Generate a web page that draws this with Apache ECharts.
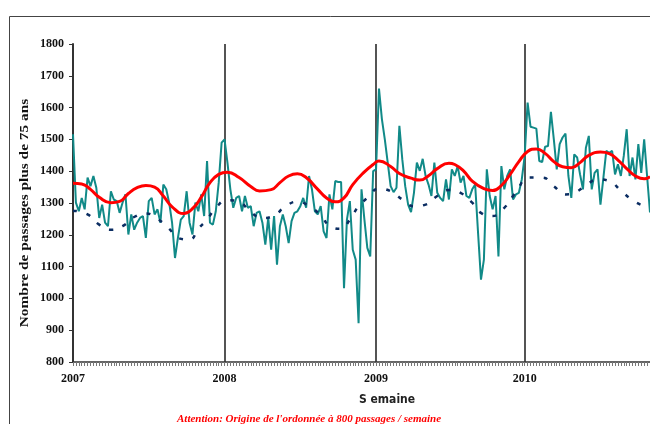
<!DOCTYPE html>
<html>
<head>
<meta charset="utf-8">
<script src="https://cdn.jsdelivr.net/npm/echarts@6/dist/echarts.min.js"></script>
<style>
html,body{margin:0;padding:0;background:#fff;}
#chart{width:650px;height:424px;}
</style>
</head>
<body>
<div id="chart"></div>
<script>
// Weekly counts (teal series), one array per year
const teal2007 = [1516,1301,1274,1316,1280,1380,1353,1385,1348,1253,1295,1238,1227,1337,1311,1306,1269,1301,1327,1201,1264,1216,1238,1253,1259,1190,1306,1316,1264,1280,1238,1358,1343,1301,1238,1127,1190,1248,1259,1337,1238,1201,1301,1274,1327,1259,1432,1238,1232,1274,1364,1490];
const teal2008 = [1500,1427,1343,1285,1316,1322,1274,1322,1285,1290,1227,1269,1274,1238,1169,1253,1153,1259,1106,1227,1264,1227,1174,1243,1269,1274,1290,1316,1285,1385,1343,1274,1264,1290,1211,1190,1327,1280,1369,1366,1366,1032,1248,1306,1153,1122,922,1343,1248,1159,1132,1400];
const teal2009 = [1406,1660,1564,1500,1427,1353,1334,1348,1543,1437,1353,1295,1271,1332,1427,1401,1439,1385,1358,1322,1427,1332,1316,1306,1374,1311,1406,1385,1416,1364,1385,1322,1316,1343,1358,1206,1059,1122,1406,1322,1280,1322,1132,1416,1343,1385,1406,1311,1327,1332,1374,1448];
const teal2010 = [1616,1540,1537,1534,1432,1429,1477,1479,1587,1500,1406,1485,1506,1518,1385,1316,1453,1443,1390,1343,1474,1511,1343,1395,1406,1295,1379,1464,1458,1464,1390,1422,1385,1448,1532,1385,1443,1374,1485,1395,1500,1385,1270];

// Smooth expected curve (red) read at key weeks
const redWeeks  = [0,3,6,9,13,16,19,22,25,28,31,34,38,41,44,47,50,53,57,61,64,68,71,74,77,80,84,87,90,93,96,100,103,105,109,112,116,119,122,125,129,131,134,137,141,144,147,150,153,156,159,162,165,168,171,174,177,181,184,187,190,193,196,198];
const redValues = [1362,1360,1343,1318,1301,1305,1330,1348,1355,1350,1322,1288,1267,1282,1318,1364,1390,1397,1380,1352,1338,1342,1364,1385,1392,1380,1343,1316,1304,1316,1358,1398,1421,1432,1415,1393,1378,1372,1386,1408,1425,1421,1401,1369,1345,1339,1355,1390,1430,1462,1470,1456,1430,1414,1411,1427,1450,1460,1455,1435,1408,1385,1376,1383];

// Lower dashed curve (navy) read at key weeks
const blueWeeks  = [0,5,9,13,17,21,25,29,33,36,40,43,46,49,53,57,61,65,69,73,77,81,85,88,92,95,98,101,105,109,113,117,121,125,129,133,137,140,144,148,151,153,156,161,165,169,172,176,180,184,188,192,196,198];
const blueValues = [1276,1264,1232,1216,1227,1256,1267,1250,1219,1190,1185,1219,1248,1285,1309,1304,1271,1253,1261,1290,1304,1290,1261,1229,1219,1248,1290,1316,1345,1337,1311,1290,1295,1322,1341,1332,1301,1269,1259,1285,1322,1350,1380,1380,1353,1327,1332,1355,1374,1369,1339,1309,1290,1285];

// Year marks on the week axis
const yearWeeks  = [0,52,104,155];
const yearLabels = ['2007','2008','2009','2010'];

const yTicks = {min: 800, max: 1800, interval: 100};

const tealValues = teal2007.concat(teal2008, teal2009, teal2010);
const weeks = tealValues.map((_, i) => String(i));
const redData = redWeeks.map((w, i) => [w, redValues[i]]);
const blueData = blueWeeks.map((w, i) => [w, blueValues[i]]);

const serif = 'Liberation Serif';
const chart = echarts.init(document.getElementById('chart'));
chart.setOption({
  animation: false,
  backgroundColor: '#ffffff',
  grid: {left: 73, right: 0, top: 44, bottom: 62, containLabel: false},
  graphic: [
    {type: 'rect', shape: {x: 9.5, y: 16.5, width: 800, height: 600}, style: {fill: 'none', stroke: '#444', lineWidth: 1}, silent: true, z: -1},
    {type: 'text', x: 25, y: 213, rotation: Math.PI / 2, scaleX: 1.28,
      style: {text: 'Nombre de passages plus de 75 ans', fill: '#111', font: 'bold 12px "Liberation Serif"', align: 'center', verticalAlign: 'middle'}},
    {type: 'text', left: 359, top: 394, style: {text: 'S emaine', fill: '#222', font: 'bold 12px "DejaVu Sans Condensed"'}},
    {type: 'text', left: 177, top: 414, style: {text: "Attention: Origine de l'ordonnée à 800 passages / semaine", fill: '#ff0000', font: 'italic bold 11px "Liberation Serif"'}}
  ],
  xAxis: {
    type: 'category',
    data: weeks,
    boundaryGap: false,
    axisLine: {show: true, lineStyle: {color: '#333', width: 1.5}},
    axisTick: {show: true, interval: 0, length: 4, lineStyle: {color: '#777', width: 1}},
    axisLabel: {
      interval: (idx) => yearWeeks.includes(idx),
      formatter: (v) => { const k = yearWeeks.indexOf(Number(v)); return k >= 0 ? yearLabels[k] : ''; },
      margin: 11,
      color: '#111',
      fontFamily: serif,
      fontWeight: 'bold',
      fontSize: 12
    },
    splitLine: {show: true, interval: (idx) => yearWeeks.includes(idx), lineStyle: {color: '#2a2a2a', width: 1.6}}
  },
  yAxis: {
    type: 'value',
    min: yTicks.min, max: yTicks.max, interval: yTicks.interval,
    axisLine: {show: true, lineStyle: {color: '#333', width: 2}},
    axisTick: {show: true, length: 4, lineStyle: {color: '#333'}},
    axisLabel: {margin: 9, color: '#111', fontFamily: serif, fontWeight: 'bold', fontSize: 12, formatter: (v) => String(v)},
    splitLine: {show: false}
  },
  series: [
    {
      type: 'line', data: tealValues, showSymbol: false, z: 2,
      lineStyle: {color: '#118a88', width: 2}
    },
    {
      type: 'line', data: blueData, smooth: true, showSymbol: false, z: 3,
      lineStyle: {color: '#0b2d62', width: 2.5, type: [4, 10]}
    },
    {
      type: 'line', data: redData, smooth: true, showSymbol: false, z: 4,
      lineStyle: {color: '#ff0000', width: 3}
    }
  ]
});
</script>
</body>
</html>
